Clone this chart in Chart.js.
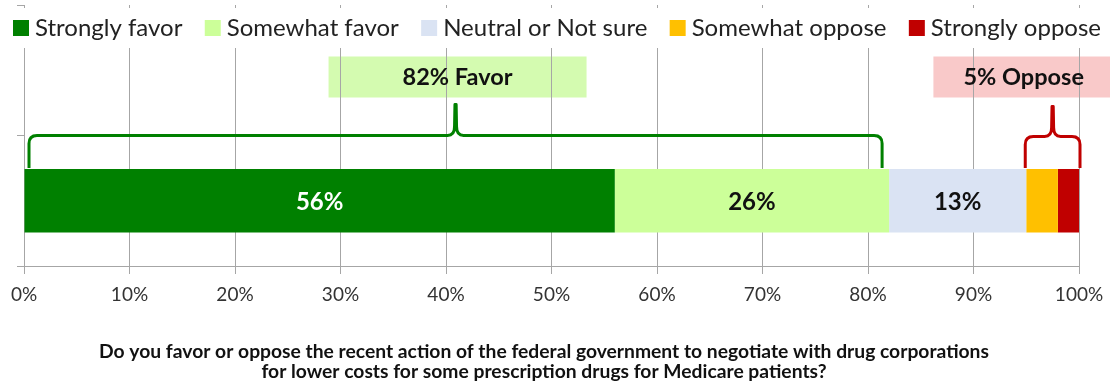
<!DOCTYPE html>
<html>
<head>
<meta charset="utf-8">
<script src="https://cdn.jsdelivr.net/npm/chart.js@4/dist/chart.umd.min.js"></script>
<style>
  html, body { margin: 0; padding: 0; background: #ffffff; }
  #wrap { width: 1110px; height: 384px; }
</style>
</head>
<body>
<div id="wrap"><canvas id="chart" width="1110" height="384"></canvas></div>
<script>
// Two rows on the category axis: the upper one holds the callouts, the lower one the bar.
const rowLabels = ['', ''];
const barRow = 1;

const seriesNames = ['Strongly favor', 'Somewhat favor', 'Neutral or Not sure', 'Somewhat oppose', 'Strongly oppose'];
const seriesValues = [56, 26, 13, 3, 2];

const favorSeries = [0, 1];
const opposeSeries = [3, 4];

const xTickValues = [0, 10, 20, 30, 40, 50, 60, 70, 80, 90, 100];
const xTickLabels = ['0%', '10%', '20%', '30%', '40%', '50%', '60%', '70%', '80%', '90%', '100%'];

const questionLines = [
  'Do you favor or oppose the recent action of the federal government to negotiate with drug corporations',
  'for lower costs for some prescription drugs for Medicare patients?'
];

// Styling
const seriesColors = ['#008000', '#CCFF99', '#DAE3F3', '#FFC000', '#C00000'];
const labelInk = ['#ffffff', '#111111', '#111111', '#111111', '#111111'];
const FONT = 'Lato, "Open Sans", "DejaVu Sans", sans-serif';
const GRID = '#a6a6a6';

const sum = idx => idx.reduce((a, i) => a + seriesValues[i], 0);
const favorTotal = sum(favorSeries);
const opposeTotal = sum(opposeSeries);

function drawBrace(ctx, L, R, H, B, T, r, color) {
  const P = (L + R) / 2;
  ctx.save();
  ctx.strokeStyle = color;
  ctx.lineWidth = 3;
  ctx.lineJoin = 'round';
  ctx.beginPath();
  ctx.moveTo(L, B);
  ctx.lineTo(L, H + r);
  ctx.quadraticCurveTo(L, H, L + r, H);
  ctx.lineTo(P - 8, H);
  ctx.quadraticCurveTo(P - 1, H, P - 1, H - 9);
  ctx.lineTo(P - 0.6, T);
  ctx.lineTo(P + 0.6, T);
  ctx.lineTo(P + 1, H - 9);
  ctx.quadraticCurveTo(P + 1, H, P + 8, H);
  ctx.lineTo(R - r, H);
  ctx.quadraticCurveTo(R, H, R, H + r);
  ctx.lineTo(R, B);
  ctx.stroke();
  ctx.restore();
}

const decor = {
  id: 'decor',
  beforeDraw(chart) {
    const ctx = chart.ctx;
    const x = chart.scales.x, y = chart.scales.y;
    const split = (y.getPixelForValue(0) + y.getPixelForValue(1)) / 2;
    const top = split - 79, h = 41;
    // callout boxes sit beneath the grid lines
    const favorMid = x.getPixelForValue(favorTotal / 2);
    ctx.save();
    ctx.fillStyle = '#D4FBB0';
    ctx.fillRect(favorMid - 128, top, 258, h);
    ctx.fillStyle = '#F9C9C9';
    const oppLeft = x.getPixelForValue(86.2);
    ctx.fillRect(oppLeft, top, chart.width - oppLeft + 4, h);
    ctx.restore();
  },
  afterDraw(chart) {
    const ctx = chart.ctx;
    const x = chart.scales.x, y = chart.scales.y;
    const split = (y.getPixelForValue(0) + y.getPixelForValue(1)) / 2;

    // Legend band
    ctx.save();
    ctx.fillStyle = '#ffffff';
    ctx.fillRect(0, 8, chart.width, 40);
    ctx.font = '24px ' + FONT;
    ctx.textBaseline = 'middle';
    const sq = 16, gapIn = 6;
    const widths = seriesNames.map(n => ctx.measureText(n).width);
    const used = widths.reduce((a, w) => a + w + sq + gapIn, 0);
    const startX = 13, endX = 1101;
    const gap = (endX - startX - used) / (seriesNames.length - 1);
    let lx = startX;
    seriesNames.forEach((n, i) => {
      ctx.fillStyle = seriesColors[i];
      ctx.fillRect(lx, 20, sq, sq);
      ctx.fillStyle = '#222222';
      ctx.fillText(n, lx + sq + gapIn, 28);
      lx += sq + gapIn + widths[i] + gap;
    });
    ctx.restore();

    // Braces
    const bar = chart.getDatasetMeta(0).data[barRow];
    const barTop = bar.y - bar.height / 2;
    drawBrace(ctx, x.getPixelForValue(0) + 5, x.getPixelForValue(favorTotal) - 7,
      split, barTop - 1, split - 31, 8, '#008000');
    drawBrace(ctx, x.getPixelForValue(100 - opposeTotal) - 1, x.getPixelForValue(100) + 1,
      split + 1, barTop - 1, split - 29, 8, '#C00000');

    // Callout texts
    ctx.save();
    ctx.font = 'bold 23.5px ' + FONT;
    ctx.textAlign = 'center';
    ctx.textBaseline = 'middle';
    ctx.fillStyle = '#111111';
    const cy = split - 58;
    ctx.fillText(favorTotal + '% Favor', x.getPixelForValue(favorTotal / 2) + 1, cy);
    const oppLeft = x.getPixelForValue(86.2);
    ctx.fillText(opposeTotal + '% Oppose', (oppLeft + chart.width + 4) / 2, cy);
    ctx.restore();

    // Segment value labels
    ctx.save();
    ctx.font = 'bold 24px ' + FONT;
    ctx.textAlign = 'center';
    ctx.textBaseline = 'middle';
    chart.data.datasets.forEach((ds, i) => {
      const v = ds.data[barRow];
      if (v < 10) return;
      const el = chart.getDatasetMeta(i).data[barRow];
      ctx.fillStyle = labelInk[i];
      ctx.fillText(v + '%', (el.x + el.base) / 2, el.y + 2);
    });
    ctx.restore();

    // Question text
    ctx.save();
    ctx.font = 'bold 19.3px ' + FONT;
    ctx.textAlign = 'center';
    ctx.textBaseline = 'middle';
    ctx.fillStyle = '#111111';
    questionLines.forEach((line, i) => ctx.fillText(line, 544, 352 + i * 20));
    ctx.restore();
  }
};

new Chart(document.getElementById('chart'), {
  type: 'bar',
  data: {
    labels: rowLabels,
    datasets: seriesNames.map((name, i) => ({
      label: name,
      data: rowLabels.map((_, r) => (r === barRow ? seriesValues[i] : null)),
      backgroundColor: seriesColors[i],
      borderWidth: 0,
      barPercentage: 0.485,
      categoryPercentage: 1
    }))
  },
  options: {
    indexAxis: 'y',
    responsive: false,
    animation: false,
    devicePixelRatio: 1,
    layout: { padding: { top: 5, right: 31, left: 0, bottom: 0 } },
    plugins: { legend: { display: false }, tooltip: { enabled: false }, title: { display: false } },
    scales: {
      x: {
        type: 'linear',
        min: 0,
        max: 100,
        stacked: true,
        afterBuildTicks: s => { s.ticks = xTickValues.map(v => ({ value: v })); },
        afterFit: s => { s.height = 118; s.paddingLeft = 0; s.paddingRight = 0; },
        ticks: {
          callback: v => xTickLabels[xTickValues.indexOf(v)],
          font: { family: FONT, size: 19 },
          color: '#333333',
          padding: 9,
          maxRotation: 0
        },
        grid: { color: GRID, lineWidth: 1, tickLength: 8 },
        border: { color: GRID }
      },
      y: {
        type: 'category',
        stacked: true,
        offset: true,
        afterFit: s => { s.width = 24; },
        ticks: { display: false },
        grid: { offset: true, drawOnChartArea: false, color: GRID, tickLength: 7 },
        border: { color: GRID }
      }
    }
  },
  plugins: [decor]
});
</script>
</body>
</html>
